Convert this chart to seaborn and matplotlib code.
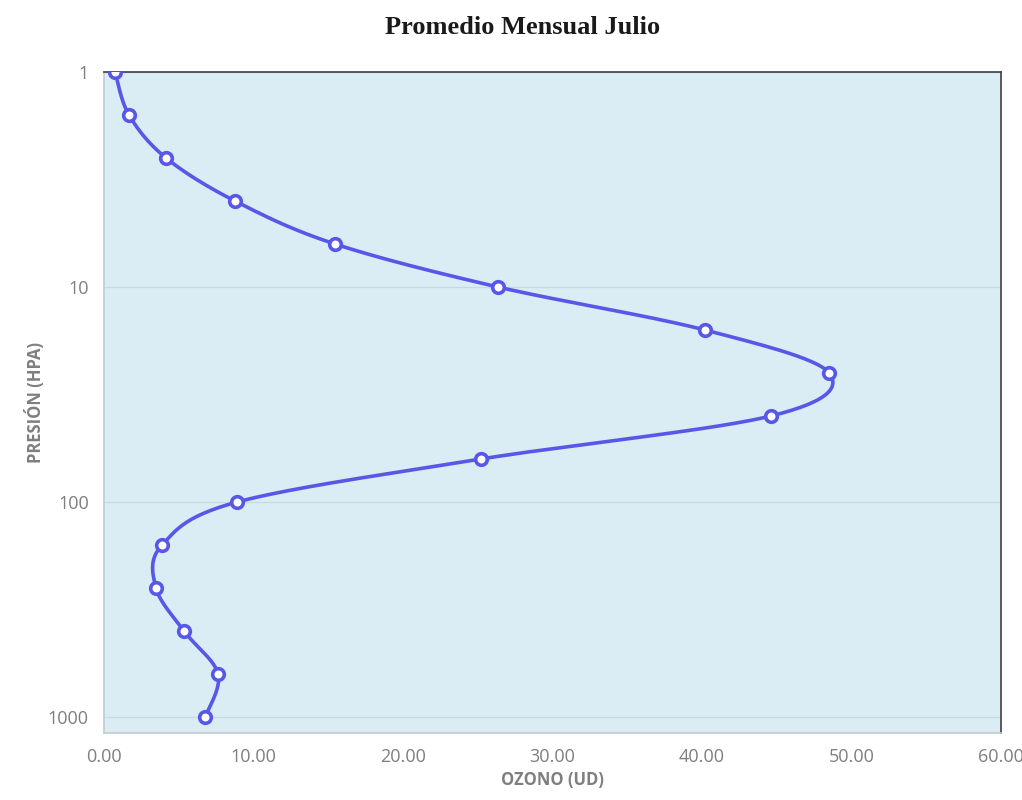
import numpy as np
import pandas as pd
import matplotlib
matplotlib.use("Agg")
import matplotlib.pyplot as plt
import seaborn as sns
from matplotlib.ticker import FixedLocator, FixedFormatter, NullLocator

# Monthly mean ozone profile (July)
pressure_hpa = [1.0, 1.585, 2.512, 3.981, 6.31, 10.0, 15.85, 25.12, 39.81,
                63.1, 100.0, 158.5, 251.2, 398.1, 631.0, 1000.0]
ozone_ud = [0.74, 1.67, 4.15, 8.76, 15.45, 26.35, 40.2, 48.5, 44.6,
            25.2, 8.9, 3.88, 3.48, 5.35, 7.63, 6.76]

x_ticks = [0, 10, 20, 30, 40, 50, 60]
x_tick_labels = ["0.00", "10.00", "20.00", "30.00", "40.00", "50.00", "60.00"]
y_ticks = [1, 10, 100, 1000]
y_tick_labels = ["1", "10", "100", "1000"]

df = pd.DataFrame({"ozono": ozone_ud, "presion": pressure_hpa})

LINE = "#5858e8"
BG = "#daedf4"
GRAY = "#7f7f7f"


def smooth_curve(x, y, steps=30):
    """Cubic Bezier smoothing through the points (x linear, y in log10)."""
    px = np.asarray(x, float)
    py = np.log10(np.asarray(y, float))
    n = len(px)
    out_x, out_y = [], []
    for i in range(n - 1):
        p0 = np.array([px[max(i - 1, 0)], py[max(i - 1, 0)]])
        p1 = np.array([px[i], py[i]])
        p2 = np.array([px[i + 1], py[i + 1]])
        p3 = np.array([px[min(i + 2, n - 1)], py[min(i + 2, n - 1)]])
        c1 = p1 + (p2 - p0) / 6.0
        c2 = p2 - (p3 - p1) / 6.0
        t = np.linspace(0, 1, steps, endpoint=(i == n - 2))[:, None]
        pts = ((1 - t) ** 3) * p1 + 3 * ((1 - t) ** 2) * t * c1 \
            + 3 * (1 - t) * t ** 2 * c2 + t ** 3 * p2
        out_x.extend(pts[:, 0])
        out_y.extend(pts[:, 1])
    return np.array(out_x), 10 ** np.array(out_y)


sns.set_theme(style="white")
plt.rcParams["font.family"] = ["Open Sans", "DejaVu Sans"]

fig = plt.figure(figsize=(10.22, 8.0), dpi=100)
ax = fig.add_axes([0.1018, 0.0838, 0.8777, 0.8262])
ax.set_facecolor(BG)

sx, sy = smooth_curve(df["ozono"], df["presion"])
curve = pd.DataFrame({"ozono": sx, "presion": sy})
sns.lineplot(data=curve, x="ozono", y="presion", sort=False, estimator=None,
             color=LINE, linewidth=2.6, ax=ax, zorder=3)
sns.scatterplot(data=df, x="ozono", y="presion", ax=ax, s=70, marker="o",
                facecolor="white", edgecolor=LINE, linewidth=2.6, zorder=4)

ax.set_yscale("log")
ax.set_xlim(0, 60)
ax.set_ylim(1186, 1)

ax.xaxis.set_major_locator(FixedLocator(x_ticks))
ax.xaxis.set_major_formatter(FixedFormatter(x_tick_labels))
ax.yaxis.set_major_locator(FixedLocator(y_ticks))
ax.yaxis.set_major_formatter(FixedFormatter(y_tick_labels))
ax.yaxis.set_minor_locator(NullLocator())
ax.tick_params(axis="both", length=0, labelsize=13, labelcolor=GRAY)
ax.tick_params(axis="x", pad=11)
ax.tick_params(axis="y", pad=11)

ax.grid(axis="y", color="#c9d9e1", linewidth=0.9)
ax.grid(axis="x", visible=False)
ax.set_axisbelow(True)

for side in ("top", "right"):
    ax.spines[side].set_color("#404040")
    ax.spines[side].set_linewidth(1.2)
for side in ("left", "bottom"):
    ax.spines[side].set_color("#c0ccd2")
    ax.spines[side].set_linewidth(1.2)

ax.set_xlabel("OZONO (UD)", fontsize=12, fontweight="bold", color=GRAY)
ax.set_ylabel("PRESIÓN (HPA)", fontsize=12, fontweight="bold", color=GRAY)
ax.xaxis.set_label_coords(0.5, -0.071)
ax.yaxis.set_label_coords(-0.077, 0.5)
ax.xaxis.label.set_va("center")
ax.yaxis.label.set_va("center")

fig.text(0.511, 0.966, "Promedio Mensual Julio", ha="center", va="center",
         fontsize=19, fontweight="bold", family=["Liberation Serif", "DejaVu Serif"],
         color="#1a1a1a")

fig.savefig("out.png", dpi=100, facecolor="white")
